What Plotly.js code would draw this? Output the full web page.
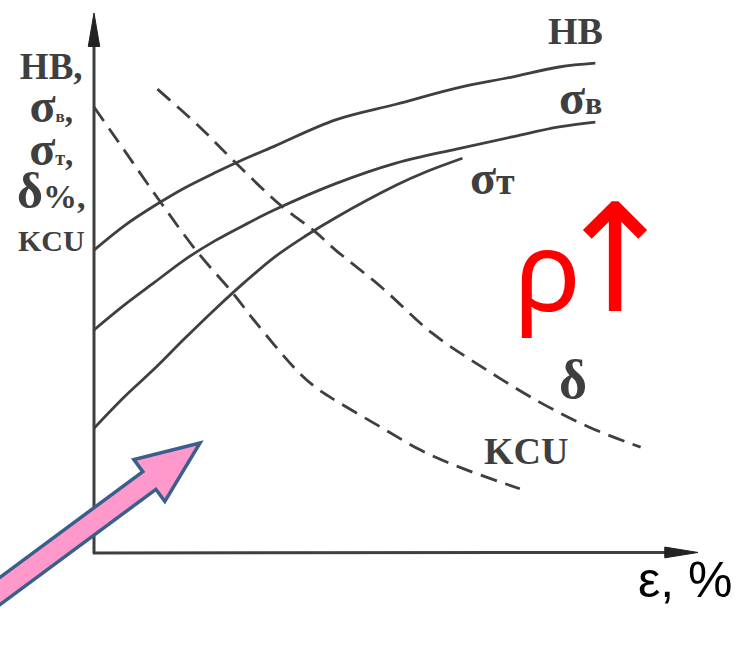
<!DOCTYPE html>
<html>
<head>
<meta charset="utf-8">
<script src="https://cdn.plot.ly/plotly-3.0.1.min.js"></script>
<style>
  html, body { margin: 0; padding: 0; background: #ffffff; }
  #chart { width: 736px; height: 648px; }
</style>
</head>
<body>
<div id="chart"></div>
<script>
// Strain ε, % along the x axis and the relative level of each property on the y axis.
const epsHB    = [0, 5, 10, 15, 20, 25, 30, 40, 50, 60, 69, 77, 83];
const valHB    = [56.1, 60.6, 64.3, 67.6, 70.4, 73.0, 75.4, 80.2, 83.1, 86.1, 88.1, 90.0, 90.7];

const epsSigB  = [0, 5, 10, 15, 20, 25, 30, 40, 50, 60, 69, 77, 83];
const valSigB  = [41.3, 45.9, 50.1, 54.3, 57.8, 60.8, 63.6, 68.4, 72.2, 74.8, 77.0, 78.9, 79.8];

const epsSigT  = [0, 5, 10, 15, 20, 25, 30, 35, 40, 50, 55, 61];
const valSigT  = [23.1, 28.9, 34.1, 39.7, 45.1, 50.2, 54.9, 58.7, 62.1, 68.1, 70.6, 73.1];

const epsDelta = [10.5, 17.5, 23.5, 31, 36.5, 40, 47.5, 56, 65, 74, 82, 90.5];
const valDelta = [85.9, 78.9, 72.2, 64.3, 59.6, 56.1, 49.3, 40.7, 33.9, 27.8, 23.3, 19.6];

const epsKCU   = [0, 5, 11, 17, 23, 26.5, 33.5, 37, 40.5, 47.5, 54, 60.5, 70.5];
const valKCU   = [82.6, 74.6, 65.0, 55.9, 48.1, 43.1, 33.9, 30.4, 27.9, 23.3, 19.1, 15.9, 11.9];

const seriesNames = ['HB', 'σ', 'σ', 'δ', 'KCU'];
const seriesSubs  = ['', 'в', 'т', '', ''];
const axisCaption = ['HB,', 'σ', 'в', 'σ', 'т', 'δ', '%,', 'KCU'];
const xAxisLabel = 'ε, %';
const trendLabel = ['ρ', '↑'];

// ---------------------------------------------------------------
const W = 736, H = 648;
const INK = '#3f3f3f';
const SERIF = '"Liberation Serif", "Times New Roman", serif';

// page position (left/top in px) -> paper fraction
function pp(x, y) { return [x / W, 1 - y / H]; }

function curve(x, y, name, dashed) {
  return {
    type: 'scatter', mode: 'lines', x: x, y: y, name: name,
    line: { color: INK, width: 2.8, shape: 'spline', smoothing: 1.0,
            dash: dashed ? '17px,9px' : 'solid' },
    hoverinfo: 'skip'
  };
}

const traces = [
  curve(epsHB, valHB, seriesNames[0], false),
  curve(epsSigB, valSigB, seriesNames[1] + seriesSubs[1], false),
  curve(epsSigT, valSigT, seriesNames[2] + seriesSubs[2], false),
  curve(epsDelta, valDelta, seriesNames[3], true),
  curve(epsKCU, valKCU, seriesNames[4], true)
];

// Coordinate axes with arrowheads (drawn in data units, tips at 100)
const shapes = [
  { type: 'line', xref: 'x', yref: 'y', x0: 0, y0: 0, x1: 0, y1: 95, line: { color: INK, width: 3 } },
  { type: 'line', xref: 'x', yref: 'y', x0: -0.2, y0: 0, x1: 96, y1: 0.1, line: { color: INK, width: 3 } },
  { type: 'path', xref: 'x', yref: 'y', path: 'M 0,100 L -0.95,93.8 L 0.95,93.8 Z',
    fillcolor: '#222', line: { color: '#222', width: 1 } },
  { type: 'path', xref: 'x', yref: 'y', path: 'M 100,0.1 L 94.5,1.1 L 94.5,-0.9 Z',
    fillcolor: '#222', line: { color: '#222', width: 1 } }
];

// Block arrow pointing up and to the right toward the curves
(function () {
  const tip = [200, 443];
  const ux = 0.804, uy = -0.595;      // direction of the arrow on the page
  const nx = 0.595, ny = 0.804;       // perpendicular
  const headLen = 63, headHalf = 26, shaftHalf = 11, tailLen = 330;
  const bx = tip[0] - headLen * ux, by = tip[1] - headLen * uy;
  const sx = tip[0] - tailLen * ux, sy = tip[1] - tailLen * uy;
  const pts = [
    tip,
    [bx - headHalf * nx, by - headHalf * ny],
    [bx - shaftHalf * nx, by - shaftHalf * ny],
    [sx - shaftHalf * nx, sy - shaftHalf * ny],
    [sx + shaftHalf * nx, sy + shaftHalf * ny],
    [bx + shaftHalf * nx, by + shaftHalf * ny],
    [bx + headHalf * nx, by + headHalf * ny]
  ].map(p => pp(p[0], p[1]));
  const d = 'M ' + pts.map(p => p[0].toFixed(5) + ',' + p[1].toFixed(5)).join(' L ') + ' Z';
  shapes.push({ type: 'path', xref: 'paper', yref: 'paper', path: d, layer: 'above',
                fillcolor: '#ff99cc', line: { color: '#3b5f8c', width: 3.5 } });
})();

function label(text, x, y, size, opts) {
  const p = pp(x, y);
  return Object.assign({
    xref: 'paper', yref: 'paper', x: p[0], y: p[1], text: text, showarrow: false,
    xanchor: 'center', yanchor: 'middle',
    font: { family: SERIF, size: size, color: INK, weight: 'bold' }
  }, opts || {});
}

const sz = (s, px) => '<span style="font-size:' + px + 'px">' + s + '</span>';

// stacked caption beside the vertical axis
const captionText = [
  sz(axisCaption[0], 37),
  sz(axisCaption[1], 48) + sz(axisCaption[2], 17) + ',',
  sz(axisCaption[3], 48) + sz(axisCaption[4], 20) + ',',
  sz(axisCaption[5], 50) + sz(axisCaption[6], 34),
  sz(axisCaption[7], 30)
].join('<br>');

// red density mark: Noto Sans rho, tightened against a larger DejaVu arrow
const trendText = '<span style="font-family:Noto Sans;font-size:112px;letter-spacing:-29px">' +
                  trendLabel[0] + '</span>' + trendLabel[1];

const annotations = [
  label(captionText, 51, 44, 33, { yanchor: 'top', align: 'center' }),
  // curve labels
  label(seriesNames[0], 575, 31, 38),
  label(seriesNames[1] + sz(seriesSubs[1], 32), 580, 97, 48),
  label(seriesNames[2] + sz(seriesSubs[2], 38), 492, 177, 48),
  label(seriesNames[3], 573, 380, 54),
  label(seriesNames[4], 526, 451, 38),
  // x-axis caption
  label(xAxisLabel, 685, 580, 50, { font: { family: '"Liberation Sans", Arial, sans-serif', size: 50, color: '#000' } }),
  // trend mark
  label(trendText, 512, 259, 150,
        { xanchor: 'left', font: { family: '"DejaVu Sans", sans-serif', size: 150, color: '#ff0000' } })
];

const layout = {
  width: W, height: H,
  margin: { l: 0, r: 0, t: 0, b: 0, pad: 0 },
  paper_bgcolor: '#ffffff', plot_bgcolor: '#ffffff',
  showlegend: false,
  xaxis: { range: [-15.563, 106.291], visible: false, fixedrange: true },
  yaxis: { range: [-17.593, 102.407], visible: false, fixedrange: true },
  shapes: shapes,
  annotations: annotations
};

Plotly.newPlot('chart', traces, layout, { staticPlot: true, displayModeBar: false });
</script>
</body>
</html>
